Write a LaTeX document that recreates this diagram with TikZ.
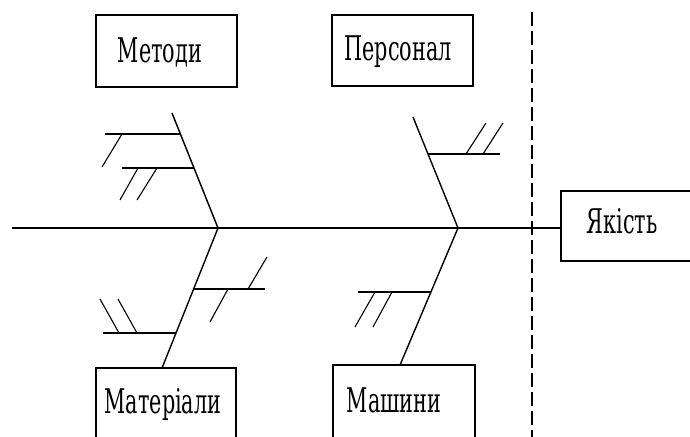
\documentclass[tikz,border=0pt]{standalone}
\usepackage{fontspec}
\setmainfont{DejaVu Serif}
\newcommand\fbtxt[1]{\scalebox{0.61}[1]{#1}}
\begin{document}
\begin{tikzpicture}[x=1pt,y=-1pt,
  box/.style={draw, line width=1.3pt, rectangle, inner sep=0pt},
  lbl/.style={anchor=base, inner sep=0pt, font=\fontsize{34}{38}\selectfont},
  bone/.style={line width=1.4pt},
  twig/.style={line width=1.1pt},
  spine/.style={line width=2pt},
  vdash/.style={line width=1.1pt, dash pattern=on 14pt off 5pt}]
\useasboundingbox (0,0) rectangle (690,436);
\clip (0,0) rectangle (690,436);
% boxes
\node[box, minimum width=141pt, minimum height=72pt] (metody) at (166.5,51) {};
\node[box, minimum width=141pt, minimum height=71pt] (personal) at (402.5,50.5) {};
\node[box, minimum width=140pt, minimum height=92pt] (mat) at (166,414) {};
\node[box, minimum width=142pt, minimum height=95pt] (mash) at (404,412.5) {};
\node[box, minimum width=159pt, minimum height=70pt] (yak) at (640.5,226) {};
% labels
\node[lbl] (tmetody) at (160,63) {\fbtxt{Методи}};
\node[lbl] (tpersonal) at (398,60) {\fbtxt{Персонал}};
\node[lbl] (tmat) at (163,413) {\fbtxt{Матеріали}};
\node[lbl] (tmash) at (394,412) {\fbtxt{Машини}};
\node[lbl] (tyak) at (622,233) {\fbtxt{Якість}};
% dashed divider
\coordinate (dtop) at (532,12);
\coordinate (dbot) at (532,440);
\draw[vdash] (dtop) -- (dbot);
% spine
\coordinate (tail) at (12,228);
\draw[spine] (tail) -- (tail -| yak.west);
% main bones
\coordinate (j1) at (218,228);
\coordinate (j2) at (458,228);
\coordinate (b1) at (172,113);
\coordinate (b2) at (162,368);
\coordinate (b3) at (413,117);
\coordinate (b4) at (400,365);
\draw[bone] (b1) -- (j1) -- (b2);
\draw[bone] (b3) -- (j2) -- (b4);
% upper-left sub-branches
\coordinate (s1a) at (105,134); \coordinate (s1b) at (180,134);
\coordinate (t1a) at (122,134); \coordinate (t1b) at (102,167);
\draw[twig] (s1a) -- (s1b);
\draw[twig] (t1a) -- (t1b);
\coordinate (s2a) at (122,168); \coordinate (s2b) at (194,168);
\coordinate (t2a) at (138,168); \coordinate (t2b) at (120,200);
\coordinate (t3a) at (157,168); \coordinate (t3b) at (137,200);
\draw[twig] (s2a) -- (s2b);
\draw[twig] (t2a) -- (t2b);
\draw[twig] (t3a) -- (t3b);
% lower-left sub-branches
\coordinate (s3a) at (194,289); \coordinate (s3b) at (265,289);
\coordinate (t4a) at (248,289); \coordinate (t4b) at (267,257);
\coordinate (t5a) at (228,289); \coordinate (t5b) at (210,322);
\draw[twig] (s3a) -- (s3b);
\draw[twig] (t4a) -- (t4b);
\draw[twig] (t5a) -- (t5b);
\coordinate (s4a) at (103,333); \coordinate (s4b) at (176,333);
\coordinate (t6a) at (119,333); \coordinate (t6b) at (100,299);
\coordinate (t7a) at (137,333); \coordinate (t7b) at (118,299);
\draw[twig] (s4a) -- (s4b);
\draw[twig] (t6a) -- (t6b);
\draw[twig] (t7a) -- (t7b);
% upper-right sub-branch
\coordinate (s5a) at (428,154); \coordinate (s5b) at (500,154);
\coordinate (t8a) at (466,154); \coordinate (t8b) at (486,123);
\coordinate (t9a) at (483,154); \coordinate (t9b) at (503,123);
\draw[twig] (s5a) -- (s5b);
\draw[twig] (t8a) -- (t8b);
\draw[twig] (t9a) -- (t9b);
% lower-right sub-branch
\coordinate (s6a) at (358,292); \coordinate (s6b) at (431,292);
\coordinate (t10a) at (375,292); \coordinate (t10b) at (355,327);
\coordinate (t11a) at (392,292); \coordinate (t11b) at (373,327);
\draw[twig] (s6a) -- (s6b);
\draw[twig] (t10a) -- (t10b);
\draw[twig] (t11a) -- (t11b);
\end{tikzpicture}
\end{document}
